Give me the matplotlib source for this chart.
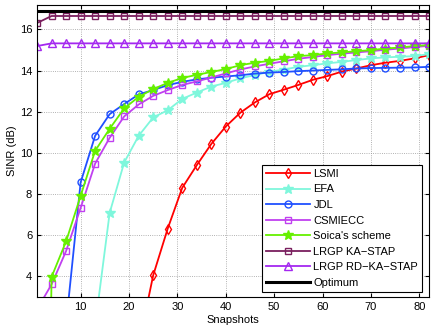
import numpy as np
import matplotlib.pyplot as plt

plt.rcParams['font.family'] = ['Liberation Sans', 'DejaVu Sans']

snapshots = np.arange(1, 83, 3)

# SINR (dB); points below the axis are rough guesses
lsmi = [-30, -25, -20, -15, -10, -6, -3, 0.66, 4.05, 6.32, 8.3, 9.4, 10.43, 11.28,
        11.95, 12.45, 12.85, 13.07, 13.3, 13.55, 13.73, 13.95, 14.1, 14.26, 14.38,
        14.47, 14.59, 14.75]
efa = [-20, -15, -10, -4, 1.6, 7.08, 9.53, 10.83, 11.72, 12.07, 12.62, 12.93, 13.22,
       13.4, 13.62, 13.78, 13.94, 14.05, 14.18, 14.26, 14.35, 14.42, 14.51, 14.59,
       14.64, 14.67, 14.7, 14.8]
jdl = [-20, -5, 1.7, 8.56, 10.83, 11.88, 12.37, 12.84, 13.05, 13.29, 13.45, 13.57,
       13.65, 13.71, 13.77, 13.85, 13.9, 13.93, 13.97, 14.0, 14.03, 14.06, 14.1,
       14.12, 14.13, 14.14, 14.15, 14.18]
csmiecc = [2.4, 3.61, 5.23, 7.32, 9.48, 10.73, 11.77, 12.35, 12.77, 13.05, 13.3, 13.47,
           13.66, 13.86, 14.05, 14.2, 14.33, 14.45, 14.57, 14.66, 14.75, 14.82, 14.88,
           14.94, 15.01, 15.07, 15.14, 15.2]
soica = [-40, 3.97, 5.7, 7.91, 10.1, 11.17, 12.16, 12.72, 13.1, 13.4, 13.64, 13.79,
         13.93, 14.07, 14.26, 14.38, 14.47, 14.59, 14.7, 14.75, 14.83, 14.88, 14.94,
         14.99, 15.07, 15.12, 15.19, 15.24]
lrgp = [16.31] + [16.65] * 27
lrgp_rd = [15.19] + [15.32] * 27
optimum = [16.9] * 28

fig = plt.figure(figsize=(4.36, 3.34), dpi=100)
ax = fig.add_axes([0.085, 0.111, 0.899, 0.875])

ax.plot(snapshots, lsmi, color='#ff0000', marker='d', mfc='none', ms=5, lw=1.3, label='LSMI')
ax.plot(snapshots, efa, color='#7ff7dc', marker='*', ms=7, lw=1.3, label='EFA')
ax.plot(snapshots, jdl, color='#2050ff', marker='o', mfc='none', ms=5, lw=1.3, label='JDL')
ax.plot(snapshots, csmiecc, color='#c040f0', marker='s', mfc='none', ms=4.5, lw=1.3, label='CSMIECC')
ax.plot(snapshots, soica, color='#66f000', marker='*', ms=7, lw=1.3, label="Soica's scheme")
ax.plot(snapshots, lrgp, color='#7a1f5e', marker='s', mfc='none', ms=4.5, lw=1.3, label='LRGP KA\u2212STAP')
ax.plot(snapshots, lrgp_rd, color='#a428f0', marker='^', mfc='none', ms=5.5, lw=1.3, label='LRGP RD\u2212KA\u2212STAP')
ax.plot(snapshots, optimum, color='black', lw=2.2, label='Optimum')

ax.set_xlim(1, 82)
ax.set_ylim(3, 17.2)
ax.set_xticks(range(10, 81, 10))
ax.set_yticks(range(4, 17, 2))
ax.tick_params(direction='in', top=True, right=True, labelsize=8, length=3)
ax.grid(True, linestyle=':', color='#999999', lw=0.6)
ax.set_xlabel('Snapshots', fontsize=8, labelpad=2)
ax.set_ylabel('SINR (dB)', fontsize=8, labelpad=2)

leg = ax.legend(loc='lower right', bbox_to_anchor=(0.982, 0.018), fontsize=8,
                handlelength=4.0, labelspacing=0.5, fancybox=False, framealpha=1,
                edgecolor='black', borderaxespad=0, handletextpad=0.3, borderpad=0.35)
leg.get_frame().set_linewidth(0.8)

fig.savefig('out.png', dpi=100)
